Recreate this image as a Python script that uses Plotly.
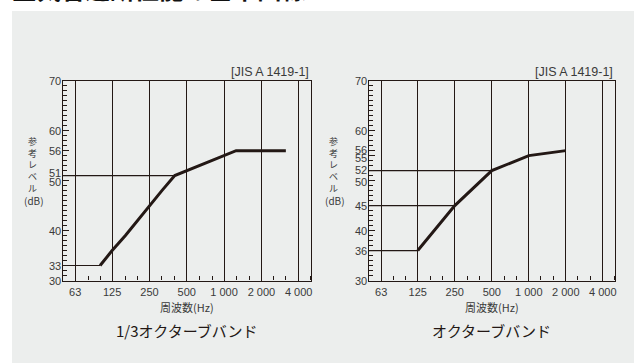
import math
import plotly.graph_objects as go

# ---- data ----
freq_third = [100, 125, 160, 200, 250, 315, 400, 500, 630, 800, 1000, 1250, 1600, 2000, 2500, 3150]
level_third = [33, 36, 39, 42, 45, 48, 51, 52, 53, 54, 55, 56, 56, 56, 56, 56]
freq_oct = [125, 250, 500, 1000, 2000]
level_oct = [36, 45, 52, 55, 56]

x_tickvals = [63, 125, 250, 500, 1000, 2000, 4000]
x_ticktext = ["63", "125", "250", "500", "1 000", "2 000", "4 000"]
x_minor = [50, 80, 100, 160, 200, 315, 400, 630, 800, 1250, 1600, 2500, 3150, 5000]

y_ticks_third = [30, 33, 40, 50, 51, 56, 60, 70]
y_ticks_oct = [30, 36, 40, 45, 50, 52, 55, 56, 60, 70]

# reference lines: (level, frequency where it meets the curve)
ref_third_partial = [(33, 100), (51, 400)]
ref_third_full = [40, 50, 56, 60]
ref_oct_partial = [(36, 125), (45, 250), (52, 500)]
ref_oct_full = [40, 50, 55, 56, 60]

X_MIN, X_MAX = 50, 5000
Y_MIN, Y_MAX = 30, 70

INK = "#231815"
LABEL = "#3a3a3a"
W, H = 637, 363

fig = go.Figure()

def add_panel(xr, yr, freqs, levels, partial, full):
    for lv, f in partial:
        fig.add_trace(go.Scatter(x=[X_MIN, f], y=[lv, lv], mode="lines",
                                 line=dict(color=INK, width=1.2),
                                 xaxis=xr, yaxis=yr, showlegend=False, hoverinfo="skip"))
    for lv in full:
        fig.add_shape(type="line", xref=f"{xr} domain", yref=yr, x0=0, x1=1, y0=lv, y1=lv,
                      line=dict(color=INK, width=1.2), layer="below")
    fig.add_trace(go.Scatter(x=freqs, y=levels, mode="lines",
                             line=dict(color=INK, width=3),
                             xaxis=xr, yaxis=yr, showlegend=False))

add_panel("x", "y", freq_third, level_third, ref_third_partial, ref_third_full)
add_panel("x2", "y2", freq_oct, level_oct, ref_oct_partial, ref_oct_full)

num_family = "Liberation Sans Narrow, Liberation Sans, Arial, sans-serif"
tickfont = dict(family=num_family, size=11, color=LABEL)

def xaxis_cfg(domain, anchor):
    return dict(type="log", domain=domain, anchor=anchor,
                range=[math.log10(X_MIN), math.log10(X_MAX)],
                tickmode="array", tickvals=x_tickvals, ticktext=x_ticktext,
                ticks="", showgrid=True, gridcolor=INK, gridwidth=1.2,
                showline=True, linecolor=INK, linewidth=1.2, mirror=True,
                tickfont=tickfont, zeroline=False, ticklabelstandoff=1,
                minor=dict(tickmode="array", tickvals=x_minor, ticks="inside",
                           ticklen=4, tickcolor=INK, tickwidth=1, showgrid=False))

def yaxis_cfg(domain, anchor, ticks):
    return dict(domain=domain, anchor=anchor, range=[Y_MIN, Y_MAX],
                tickmode="array", tickvals=ticks, showticklabels=False,
                ticks="inside", ticklen=6, tickcolor=INK, tickwidth=1,
                showgrid=False, zeroline=False,
                showline=True, linecolor=INK, linewidth=1.2, mirror=True,
                minor=dict(dtick=1, ticks="inside", ticklen=4, tickcolor=INK, tickwidth=1, showgrid=False))

ydom = [1 - 280.5 / H, 1 - 80.7 / H]
xdom1 = [63 / W, 311.7 / W]
xdom2 = [370 / W, 616.7 / W]

fig.update_layout(
    width=W, height=H, margin=dict(l=0, r=0, t=0, b=0),
    paper_bgcolor="white", plot_bgcolor="white",
    xaxis=xaxis_cfg(xdom1, "y"), yaxis=yaxis_cfg(ydom, "x", y_ticks_third),
    xaxis2=xaxis_cfg(xdom2, "y2"), yaxis2=yaxis_cfg(ydom, "x2", y_ticks_oct),
    showlegend=False,
)

# gray panel background
fig.add_shape(type="rect", xref="paper", yref="paper", x0=12 / W, x1=636 / W, y0=0, y1=1 - 11 / H,
              fillcolor="#eceeed", line=dict(width=0), layer="below")

jp = "Noto Sans CJK JP"
ann = []
# heading, cut off by the top edge as in the original
ann.append(dict(text="<b>空気音遮断性能の基準曲線</b>", xref="paper", yref="paper",
                x=10 / W, y=1 - 8.5 / H, xanchor="left", yanchor="bottom", showarrow=False,
                font=dict(family=jp, size=24.5, color="#111111")))

# y tick labels (small offsets keep crowded labels readable, as in the original)
label_shift_third = {51: 3, 50: -1}
label_shift_oct = {56: 1, 55: -2, 52: 1, 50: -1.5}
for xr, yr, ticks, shifts in [("x", "y", y_ticks_third, label_shift_third),
                              ("x2", "y2", y_ticks_oct, label_shift_oct)]:
    for t in ticks:
        ann.append(dict(text=str(t), xref=f"{xr} domain", yref=yr, x=0, y=t,
                        xanchor="right", yanchor="middle", xshift=-1, yshift=shifts.get(t, 0),
                        showarrow=False, borderpad=0,
                        font=dict(family=num_family, size=11, color=LABEL)))

for dom, cap in [(xdom1, "1/3オクターブバンド"), (xdom2, "オクターブバンド")]:
    cx = (dom[0] + dom[1]) / 2
    ann.append(dict(text="[JIS A 1419-1]", xref="paper", yref="paper", x=dom[1], y=1 - 71.5 / H,
                    xanchor="right", yanchor="middle", showarrow=False,
                    font=dict(family="Liberation Sans, Arial, sans-serif", size=12.5, color=LABEL)))
    ann.append(dict(text="周波数(Hz)", xref="paper", yref="paper", x=cx, y=1 - 306.5 / H,
                    xanchor="center", yanchor="middle", showarrow=False,
                    font=dict(family=jp, size=11, color=LABEL)))
    ann.append(dict(text=cap, xref="paper", yref="paper", x=cx, y=1 - 330 / H,
                    xanchor="center", yanchor="middle", showarrow=False,
                    font=dict(family=jp, size=15, color=INK)))

ytitle = "参<br>考<br>レ<br>ベ<br>ル"
for cx_px in [32.5, 334.5]:
    ann.append(dict(text=ytitle, xref="paper", yref="paper", x=cx_px / W, y=1 - 134 / H,
                    xanchor="center", yanchor="top", showarrow=False, borderpad=0,
                    font=dict(family=jp, size=9, color=LABEL)))
    ann.append(dict(text="(dB)", xref="paper", yref="paper", x=(cx_px + 1.5) / W, y=1 - 200 / H,
                    xanchor="center", yanchor="middle", showarrow=False, borderpad=0,
                    font=dict(family=jp, size=10, color=LABEL)))

fig.update_layout(annotations=ann)
fig.write_html("out.html", config={"displayModeBar": False},
               post_script="document.body.style.margin='0';document.body.style.overflow='hidden';")
